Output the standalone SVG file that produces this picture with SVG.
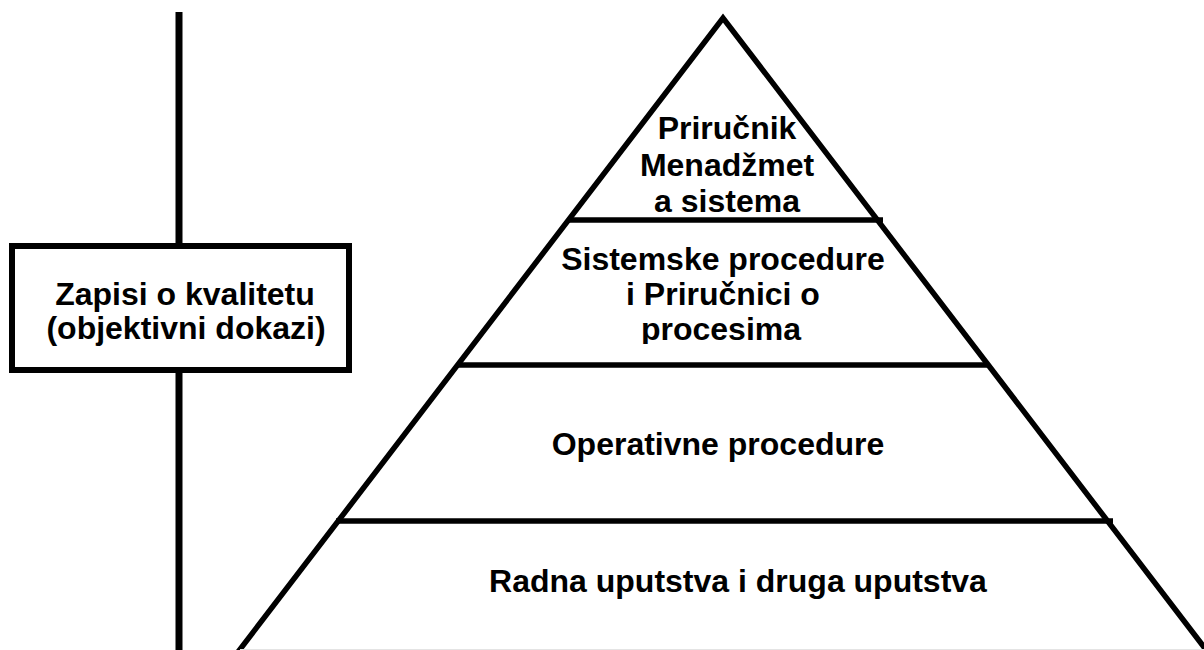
<svg xmlns="http://www.w3.org/2000/svg" width="1204" height="650" viewBox="0 0 1204 650">
  <style>
    .t { font-family: "Liberation Sans", Arial, sans-serif; font-weight: bold; font-size: 32px; fill: #000; text-anchor: middle; }
    .ln { stroke: #000; stroke-width: 5.5; fill: none; }
  </style>
  <defs>
    <clipPath id="clipProc">
      <rect x="400" y="240" width="600" height="104"/>
    </clipPath>
  </defs>
  <rect x="0" y="0" width="1204" height="650" fill="#fff"/>
  <g id="connectors">
    <line x1="179" y1="12" x2="179" y2="650" stroke="#000" stroke-width="7"/>
  </g>
  <g id="pyramid">
    <path class="ln" d="M238,652 L723,18 L1210,655" stroke-linejoin="miter" stroke-miterlimit="10"/>
    <line class="ln" x1="568" y1="220" x2="883" y2="220"/>
    <line class="ln" x1="457" y1="365" x2="989" y2="365"/>
    <line class="ln" x1="336" y1="521" x2="1113" y2="521"/>
    <line x1="240" y1="649.5" x2="1204" y2="649.5" stroke="#e4e4e4" stroke-width="1"/>
  </g>
  <g id="level1">
    <text class="t" x="727" y="139">Priručnik</text>
    <text class="t" x="727" y="176">Menadžmet</text>
    <text class="t" x="727" y="212">a sistema</text>
  </g>
  <g id="level2" clip-path="url(#clipProc)">
    <text class="t" x="723" y="270">Sistemske procedure</text>
    <text class="t" x="723" y="305">i Priručnici o</text>
    <text class="t" x="721" y="340">procesima</text>
  </g>
  <g id="level3">
    <text class="t" x="718" y="455">Operativne procedure</text>
  </g>
  <g id="level4">
    <text class="t" x="738" y="592">Radna uputstva i druga uputstva</text>
  </g>
  <g id="records">
    <rect x="12" y="246" width="337" height="124" fill="#fff" stroke="#000" stroke-width="6"/>
    <text class="t" x="185" y="305">Zapisi o kvalitetu</text>
    <text class="t" x="186" y="339">(objektivni dokazi)</text>
  </g>
</svg>
